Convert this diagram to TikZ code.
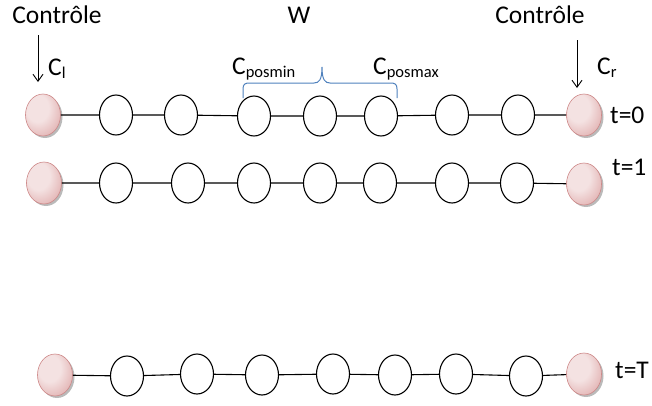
\documentclass[tikz,border=0pt]{standalone}
\usepackage{fontspec}
\setmainfont{Carlito}
\usetikzlibrary{shapes.geometric,shadows,arrows.meta}
\definecolor{pinkhi}{RGB}{244,226,226}
\definecolor{pinkedge}{RGB}{214,146,146}
\definecolor{pinkline}{RGB}{205,135,135}
\definecolor{braceblue}{RGB}{79,129,189}
\pgfdeclareradialshading{pinkball}{\pgfpoint{-10bp}{10bp}}{color(0bp)=(pinkhi); color(16bp)=(pinkhi); color(48bp)=(pinkedge); color(80bp)=(pinkedge)}
\newcommand{\lowtxt}[1]{\textsubscript{\fontsize{16.5}{18}\selectfont #1}}

\begin{document}
\begin{tikzpicture}[x=1pt, y=-1pt,
    every node/.style={font=\fontsize{25.5}{30}\selectfont, inner sep=0pt},
    cell/.style={draw=black, line width=1.1pt, ellipse, minimum width=33pt, minimum height=40pt, fill=white},
    ctrl/.style={draw=pinkline, line width=0.6pt, ellipse, minimum width=35pt, minimum height=42pt, shading=pinkball,
        drop shadow={shadow xshift=2pt, shadow yshift=-2pt, opacity=0.45, fill=black!60}},
    headtxt/.style={anchor=base},
    lbl/.style={anchor=base west},
    wire/.style={black, line width=1.1pt},
    feed/.style={-{Straight Barb[length=7pt,width=10pt]}, line width=0.9pt},
    span/.style={draw=braceblue, line width=1pt}]
    \useasboundingbox (0,0) rectangle (652,405);

    % titles and labels
    \node[headtxt] (ctrlleft) at (57,23) {Contrôle};
    \node[headtxt] (wlabel) at (299,23) {W};
    \node[headtxt] (ctrlright) at (540,23) {Contrôle};
    \node[lbl] (cl) at (48,75) {C\lowtxt{l}};
    \node[lbl] (cr) at (597,74) {C\lowtxt{r}};
    \node[lbl] (cmin) at (232,74) {C\lowtxt{posmin}};
    \node[lbl] (cmax) at (373,74) {C\lowtxt{posmax}};

    % control arrows
    \coordinate (inl) at (38,35);
    \coordinate (outl) at (38,82);
    \coordinate (inr) at (577,40);
    \coordinate (outr) at (577,88);
    \draw[feed] (inl) -- (outl);
    \draw[feed] (inr) -- (outr);

    % window brace
    \draw[span] (243,98) -- (243,89) .. controls (243,84) and (245,83) .. (250,83) -- (314,83)
        .. controls (319,83) and (322,80) .. (322,67) .. controls (322,80) and (325,83) .. (330,83)
        -- (390,83) .. controls (395,83) and (397,84) .. (397,89) -- (397,98);

    % t=0
    \node[ctrl] (a0) at (43,115) {};
    \node[cell] (a1) at (116,115) {};
    \node[cell] (a2) at (181,115) {};
    \node[cell] (a3) at (254,116) {};
    \node[cell] (a4) at (320,116) {};
    \node[cell] (a5) at (381,116) {};
    \node[cell] (a6) at (452,115) {};
    \node[cell] (a7) at (518,115) {};
    \node[ctrl] (a8) at (584,115) {};
    \node[lbl] (t0) at (610,123) {t=0};
    \draw[wire] (a0) -- (a1) -- (a2) -- (a3) -- (a4) -- (a5) -- (a6) -- (a7) -- (a8);

    % t=1
    \node[ctrl] (b0) at (44,183) {};
    \node[cell] (b1) at (116,183) {};
    \node[cell] (b2) at (188,183) {};
    \node[cell] (b3) at (254,183) {};
    \node[cell] (b4) at (320,183) {};
    \node[cell] (b5) at (380,183) {};
    \node[cell] (b6) at (452,183) {};
    \node[cell] (b7) at (517,183) {};
    \node[ctrl] (b8) at (584,184) {};
    \node[lbl] (t1) at (612,175) {t=1};
    \draw[wire] (b0) -- (b1) -- (b2) -- (b3) -- (b4) -- (b5) -- (b6) -- (b7) -- (b8);

    % t=T
    \node[ctrl] (c0) at (55,375) {};
    \node[cell] (c1) at (127,376) {};
    \node[cell] (c2) at (197,374) {};
    \node[cell] (c3) at (262,375) {};
    \node[cell] (c4) at (333,374) {};
    \node[cell] (c5) at (395,375) {};
    \node[cell] (c6) at (456,374) {};
    \node[cell] (c7) at (526,376) {};
    \node[ctrl] (c8) at (584,374) {};
    \node[lbl] (tT) at (615,378) {t=T};
    \draw[wire] (c0) -- (c1) -- (c2) -- (c3) -- (c4) -- (c5) -- (c6) -- (c7) -- (c8);
\end{tikzpicture}
\end{document}
